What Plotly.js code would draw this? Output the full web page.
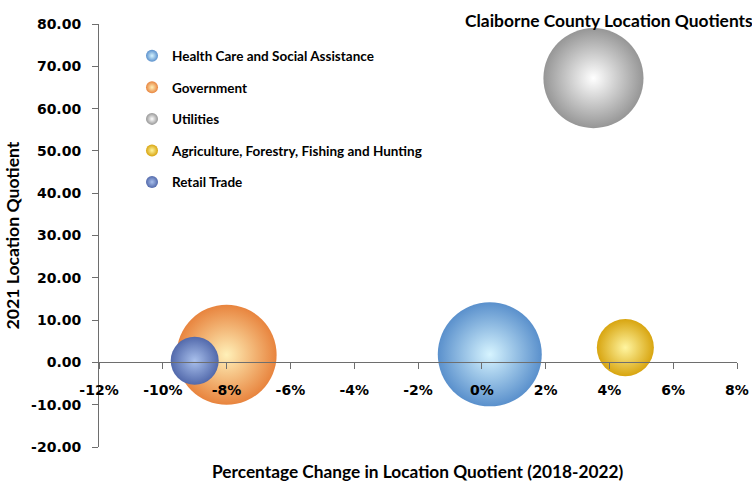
<!DOCTYPE html>
<html>
<head>
<meta charset="utf-8">
<script src="https://cdn.plot.ly/plotly-3.0.1.min.js"></script>
<style>html,body{margin:0;padding:0;background:#fff;}#chart{width:752px;height:483px;}</style>
</head>
<body>
<div id="chart"></div>
<script>
// Data
var categories = ['Health Care and Social Assistance', 'Government', 'Utilities', 'Agriculture, Forestry, Fishing and Hunting', 'Retail Trade'];
var pctChange = [0.0025, -0.080, 0.035, 0.045, -0.090];   // Percentage change in LQ (2018-2022)
var lq2021 = [1.9, 1.8, 67.2, 3.5, 0.4];                    // 2021 Location Quotient
var bubbleSize = [1080, 1000, 1000, 325, 230];              // bubble size values (estimated)
var xTickVals = [-0.12, -0.10, -0.08, -0.06, -0.04, -0.02, 0, 0.02, 0.04, 0.06, 0.08];
var xTickText = ['-12%', '-10%', '-8%', '-6%', '-4%', '-2%', '0%', '2%', '4%', '6%', '8%'];
var yTickVals = [-20, -10, 0, 10, 20, 30, 40, 50, 60, 70, 80];
var yTickText = ['-20.00', '-10.00', '0.00', '10.00', '20.00', '30.00', '40.00', '50.00', '60.00', '70.00', '80.00'];

var edgeColors = ['#5a90cc', '#e8843e', '#969696', '#d8a510', '#5269ab'];
var centerColors = ['#d6f4ff', '#fff0b8', '#ffffff', '#fff5a0', '#a9c0ec'];

var maxSize = Math.max.apply(null, bubbleSize);
var sref = 2 * maxSize / (104 * 104);

var traces = categories.map(function (name, i) {
  return {
    type: 'scatter',
    mode: 'markers',
    name: name,
    legendgroup: 'g' + i,
    x: [pctChange[i]],
    y: [lq2021[i]],
    marker: {
      size: [bubbleSize[i]],
      sizemode: 'area',
      sizeref: sref,
      color: edgeColors[i],
      line: {width: 0},
      gradient: {type: 'radial', color: centerColors[i]},
      opacity: 1
    },
    hovertemplate: name + '<br>%{x:.1%}, %{y:.2f}<extra></extra>'
  };
});

var tickFont = {family: 'DejaVu Sans', size: 14, color: '#000', weight: 'bold'};
var textFont = 'Lato, "Open Sans", sans-serif';

var layout = {
  width: 752,
  height: 483,
  margin: {l: 99, r: 15, t: 24, b: 36, pad: 0},
  paper_bgcolor: '#ffffff',
  plot_bgcolor: '#ffffff',
  showlegend: true,
  title: {
    text: '<b>Claiborne County Location Quotients</b>',
    font: {family: textFont, size: 17.4, color: '#000'},
    xref: 'container', yref: 'container',
    x: 465 / 752, xanchor: 'left',
    y: 1 - 21 / 483, yanchor: 'middle'
  },
  xaxis: {
    range: [-0.12, 0.08],
    tickvals: xTickVals,
    ticktext: xTickText,
    anchor: 'free',
    position: 0.2,
    showline: true,
    linecolor: '#6e6e6e',
    linewidth: 1,
    ticks: 'outside',
    ticklen: 6,
    tickcolor: '#6e6e6e',
    tickwidth: 1,
    ticklabelstandoff: 9,
    showgrid: false,
    zeroline: false,
    tickfont: tickFont
  },
  yaxis: {
    range: [-20, 80],
    tickvals: yTickVals,
    ticktext: yTickText,
    anchor: 'x',
    showline: true,
    linecolor: '#6e6e6e',
    linewidth: 1,
    ticks: 'outside',
    ticklen: 6,
    tickcolor: '#6e6e6e',
    tickwidth: 1,
    ticklabelstandoff: 8,
    showgrid: false,
    zeroline: false,
    tickfont: tickFont,
    title: {
      text: '<b>2021 Location Quotient</b>',
      font: {family: textFont, size: 17.6, color: '#000'},
      standoff: 6
    }
  },
  yaxis2: {
    range: [-20, 80],
    tickvals: yTickVals,
    overlaying: 'y',
    anchor: 'x',
    side: 'left',
    ticks: 'inside',
    ticklen: 6,
    tickcolor: '#6e6e6e',
    tickwidth: 1,
    showticklabels: false,
    showline: false,
    showgrid: false,
    zeroline: false
  },
  legend: {
    x: (132 - 99) / 638,
    xanchor: 'left',
    y: 1 - (40.5 - 24) / 423,
    yanchor: 'top',
    bgcolor: 'rgba(0,0,0,0)',
    font: {family: textFont, size: 13.5, color: '#000', weight: 'bold'},
    itemsizing: 'constant',
    traceorder: 'grouped',
    tracegroupgap: 11
  },
  annotations: [{
    text: '<b>Percentage Change in Location Quotient (2018-2022)</b>',
    xref: 'paper', yref: 'paper',
    x: 0.5, xanchor: 'center',
    y: -(471 - 447) / 423, yanchor: 'middle',
    showarrow: false,
    font: {family: textFont, size: 17.3, color: '#000'}
  }]
};

Plotly.newPlot('chart', traces, layout, {displayModeBar: false, responsive: false});
</script>
</body>
</html>
